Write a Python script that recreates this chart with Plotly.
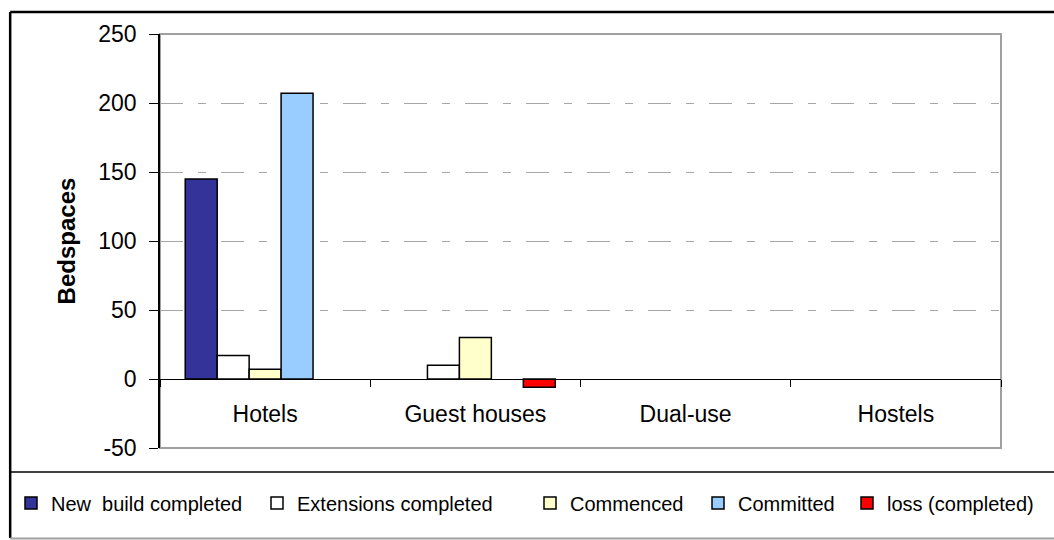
import plotly.graph_objects as go

# Accommodation bedspaces by type (None = no entry for that type)
categories = ["Hotels", "Guest houses", "Dual-use", "Hostels"]
new_build_completed = [145, None, None, None]
extensions_completed = [17, 10, None, None]
commenced = [7, 30, None, None]
committed = [207, None, None, None]
loss_completed = [None, -6, None, None]

series_names = ["New  build completed", "Extensions completed", "Commenced",
                "Committed", "loss (completed)"]
series_values = [new_build_completed, extensions_completed, commenced,
                 committed, loss_completed]
series_colors = ["#333399", "#FFFFFF", "#FFFFCC", "#99CCFF", "#FF0000"]

y_ticks = [-50, 0, 50, 100, 150, 200, 250]

W, H = 1054, 540
ML, MR, MT, MB = 159, 53, 34, 92
PW, PH = W - ML - MR, H - MT - MB


def px_x(px):
    return (px - ML) / PW


def px_y(py):
    return (H - MB - py) / PH


FONT = "Liberation Sans, Arial, sans-serif"

fig = go.Figure()
legend_ids = ["legend", "legend2", "legend3", "legend4", "legend5"]
for name, vals, col, lid in zip(series_names, series_values, series_colors, legend_ids):
    fig.add_trace(go.Bar(
        x=categories, y=vals, name=name,
        marker=dict(color=col, line=dict(color="#000000", width=1.5)),
        legend=lid,
    ))

# legend entries laid out along the bottom strip
legend_px = [11, 257, 530, 698, 847]
legend_cfg = {}
for lid, lx in zip(legend_ids, legend_px):
    legend_cfg[lid] = dict(
        x=px_x(lx), y=px_y(503), xanchor="left", yanchor="middle",
        orientation="h", bgcolor="rgba(0,0,0,0)", borderwidth=0,
        font=dict(family=FONT, size=20, color="#000000"),
        itemclick=False, itemdoubleclick=False,
    )

fig.update_layout(
    width=W, height=H,
    margin=dict(l=ML, r=MR, t=MT, b=MB, pad=0),
    paper_bgcolor="#FFFFFF", plot_bgcolor="#FFFFFF",
    barmode="group", bargap=0.24, bargroupgap=0,
    showlegend=True,
    font=dict(family=FONT, color="#000000"),
    xaxis=dict(
        type="category", categoryorder="array", categoryarray=categories,
        anchor="free", position=50 / 300,
        showline=True, linecolor="#000000", linewidth=1.2,
        ticks="outside", tickson="boundaries", ticklen=7, tickcolor="#000000",
        tickwidth=1.2, ticklabelstandoff=14,
        tickfont=dict(family=FONT, size=23, color="#000000"),
        showgrid=False, zeroline=False,
    ),
    yaxis=dict(
        range=[-50, 250], tickvals=y_ticks, ticktext=[str(v) for v in y_ticks],
        showline=True, linecolor="#000000", linewidth=1.5,
        ticks="outside", ticklen=9, tickcolor="#000000", tickwidth=1.2,
        ticklabelstandoff=8,
        tickfont=dict(family=FONT, size=23, color="#000000"),
        showgrid=True, gridcolor="#A6A6A6", gridwidth=1.2,
        griddash="23px,15px,8px,15px",
        zeroline=False,
        title=dict(text="<b>Bedspaces</b>", standoff=16,
                   font=dict(family=FONT, size=24, color="#000000")),
    ),
    **legend_cfg,
)

shapes = [
    # plot area frame
    dict(type="rect", xref="paper", yref="paper", x0=0, x1=1, y0=0, y1=1,
         line=dict(color="#A0A0A0", width=2), layer="below"),
    # chart border
    dict(type="line", xref="paper", yref="paper", x0=px_x(9), x1=px_x(1060),
         y0=px_y(12), y1=px_y(12), line=dict(color="#000000", width=2.5)),
    dict(type="line", xref="paper", yref="paper", x0=px_x(9), x1=px_x(9),
         y0=px_y(12), y1=px_y(538), line=dict(color="#000000", width=2.5)),
    dict(type="line", xref="paper", yref="paper", x0=px_x(9), x1=px_x(1060),
         y0=px_y(538.5), y1=px_y(538.5), line=dict(color="#A0A0A0", width=2)),
    # legend separator
    dict(type="line", xref="paper", yref="paper", x0=px_x(9), x1=px_x(1060),
         y0=px_y(472), y1=px_y(472), line=dict(color="#000000", width=1.5)),
]
fig.update_layout(shapes=shapes)

fig.write_html("out.html")
